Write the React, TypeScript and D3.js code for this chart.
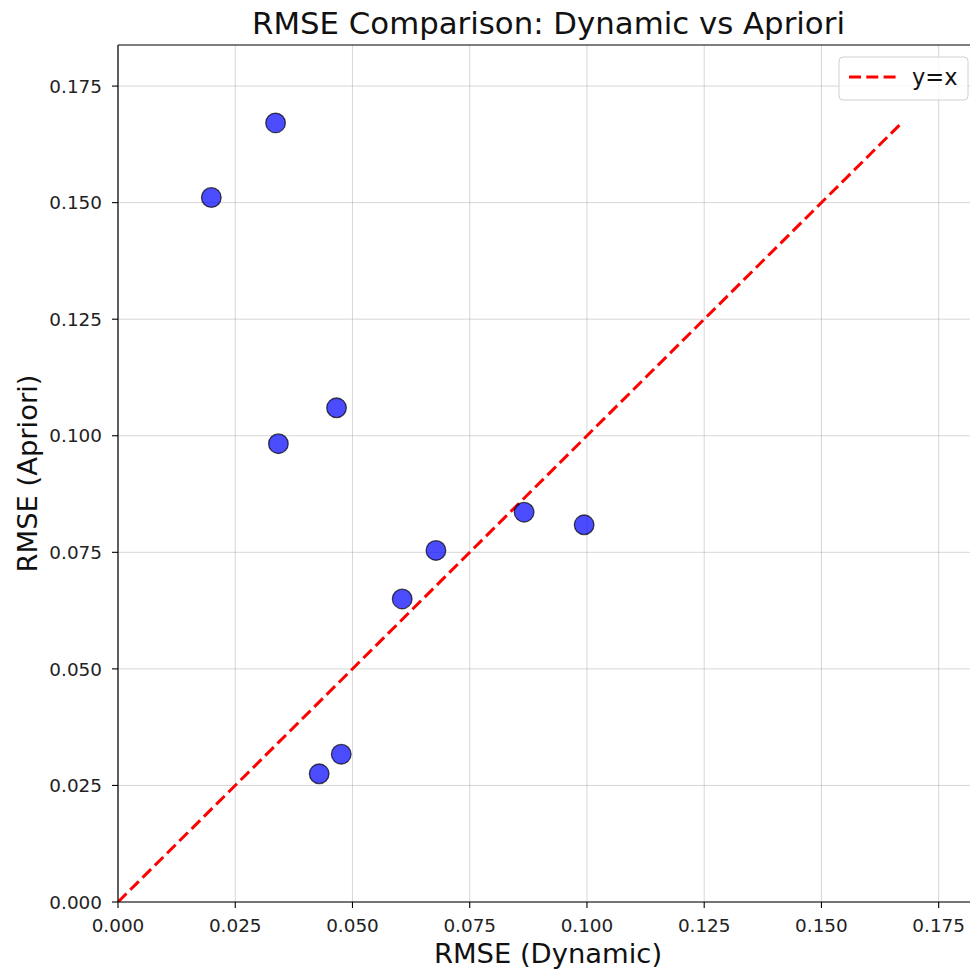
import React from "react";
import * as d3 from "d3";

// RMSE per run: dynamic model vs apriori model
const rmseDynamic = [0.0199, 0.0336, 0.0466, 0.0342, 0.0678, 0.0866, 0.0994, 0.0606, 0.0476, 0.0429];
const rmseApriori = [0.1511, 0.1671, 0.1060, 0.0983, 0.0754, 0.0836, 0.0809, 0.0650, 0.0317, 0.0275];
const tickValues = [0, 0.025, 0.05, 0.075, 0.1, 0.125, 0.15, 0.175];

const W = 970;
const H = 971;
const margin = { left: 118, top: 45 };
const plotW = 862; // 0 → limit
const plotH = 857;

export default function App() {
  const maxVal = Math.max(d3.max(rmseDynamic)!, d3.max(rmseApriori)!);
  const lim = maxVal * 1.1;
  const x = d3.scaleLinear().domain([0, lim]).range([margin.left, margin.left + plotW]);
  const y = d3.scaleLinear().domain([0, lim]).range([margin.top + plotH, margin.top]);
  const fmt = d3.format(".3f");
  const font = "'DejaVu Sans', sans-serif";
  const x0 = x(0);
  const y0 = y(0);
  const xr = x(lim);
  const yt = y(lim);

  return (
    <svg width={W} height={H} style={{ position: "absolute", left: 0, top: 0, background: "#fff" }} fontFamily={font}>
      <defs>
        <clipPath id="plot">
          <rect x={x0} y={yt} width={xr - x0} height={y0 - yt} />
        </clipPath>
      </defs>
      <rect x={0} y={0} width={W} height={H} fill="#fff" />
      {/* grid */}
      <g stroke="#b0b0b0" strokeOpacity={0.5} strokeWidth={1}>
        {tickValues.map((t) => (
          <line key={"gx" + t} x1={x(t)} x2={x(t)} y1={yt} y2={y0} />
        ))}
        {tickValues.map((t) => (
          <line key={"gy" + t} x1={x0} x2={xr} y1={y(t)} y2={y(t)} />
        ))}
      </g>
      {/* y = x reference line */}
      <g clipPath="url(#plot)">
        <line
          x1={x(0)}
          y1={y(0)}
          x2={x(maxVal)}
          y2={y(maxVal)}
          stroke="#ff0000"
          strokeWidth={3}
          strokeDasharray="12,5.3"
        />
        {rmseDynamic.map((d, i) => (
          <circle
            key={i}
            cx={x(d)}
            cy={y(rmseApriori[i])}
            r={9.8}
            fill="rgba(0,0,255,0.7)"
            stroke="rgba(0,0,0,0.7)"
            strokeWidth={1.3}
          />
        ))}
      </g>
      {/* spines */}
      <g stroke="#000" strokeWidth={1.2} fill="none">
        <line x1={x0} x2={x0} y1={yt} y2={y0} />
        <line x1={x0} x2={xr} y1={y0} y2={y0} />
        <line x1={x0} x2={xr} y1={yt} y2={yt} />
        <line x1={xr} x2={xr} y1={yt} y2={y0} />
      </g>
      {/* x ticks */}
      {tickValues.map((t) => (
        <g key={"tx" + t}>
          <line x1={x(t)} x2={x(t)} y1={y0} y2={y0 + 6} stroke="#000" strokeWidth={1.1} />
          <text x={x(t)} y={931.5} textAnchor="middle" fontSize={18.4} fill="#222">
            {fmt(t)}
          </text>
        </g>
      ))}
      {/* y ticks */}
      {tickValues.map((t) => (
        <g key={"ty" + t}>
          <line x1={x0 - 6} x2={x0} y1={y(t)} y2={y(t)} stroke="#000" strokeWidth={1.1} />
          <text x={x0 - 16} y={y(t) + 6.7} textAnchor="end" fontSize={18.4} fill="#222">
            {fmt(t)}
          </text>
        </g>
      ))}
      {/* labels */}
      <text x={548.5} y={33.5} textAnchor="middle" fontSize={30.8} fill="#111">
        RMSE Comparison: Dynamic vs Apriori
      </text>
      <text x={548} y={962.5} textAnchor="middle" fontSize={27.4} fill="#111">
        RMSE (Dynamic)
      </text>
      <text
        transform={`translate(36.5, ${(y0 + yt) / 2}) rotate(-90)`}
        textAnchor="middle"
        fontSize={27.4}
        fill="#111"
      >
        RMSE (Apriori)
      </text>
      {/* legend */}
      <g>
        <rect x={839} y={57} width={129} height={43} rx={4} fill="#fff" fillOpacity={0.8} stroke="#d0d0d0" />
        <line x1={849} x2={896} y1={77} y2={77} stroke="#ff0000" strokeWidth={3} strokeDasharray="12,5.3" />
        <text x={912} y={85} fontSize={22.5} fill="#111">
          y=x
        </text>
      </g>
    </svg>
  );
}
